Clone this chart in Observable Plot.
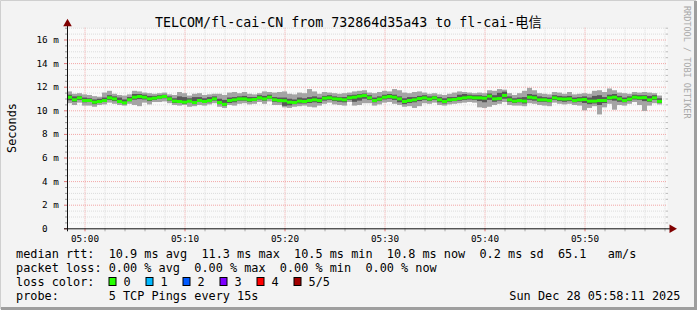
<!DOCTYPE html>
<html><head><meta charset="utf-8">
<script src="https://cdn.jsdelivr.net/npm/d3@7"></script>
<script src="https://cdn.jsdelivr.net/npm/@observablehq/plot@0.6"></script>
<style>
html,body{margin:0;padding:0;background:#f3f3f3;}
#chart{width:697px;height:310px;overflow:hidden;}
</style></head><body><div id="chart"></div>
<script>
// ---------- text ----------
const titleText = "TELCOM/fl-cai-CN from 732864d35a43 to fl-cai-电信";
const yAxisLabel = "Seconds";
const sideText = "RRDTOOL / TOBI OETIKER";
const rttHeader = "median rtt:";
const rttStats = ["10.9 ms avg", "11.3 ms max", "10.5 ms min", "10.8 ms now", "0.2 ms sd", "65.1   am/s"];
const lossHeader = "packet loss:";
const lossStats = ["0.00 % avg", "0.00 % max", "0.00 % min", "0.00 % now"];
const lossColorHeader = "loss color:";
const lossLabels = ["0", "1", "2", "3", "4", "5/5"];
const lossColors = ["#26ff00", "#00b8ff", "#0059ff", "#7e00ff", "#ff0000", "#a10000"];
const probeHeader = "probe:";
const probeText = "5 TCP Pings every 15s";
const dateText = "Sun Dec 28 05:58:11 2025";

// ---------- axes ----------
const timeStart = Date.UTC(2025, 11, 28, 4, 58, 15);
const timeEnd = Date.UTC(2025, 11, 28, 5, 58, 15);
const stepSeconds = 30;
const yMax = 17;
const yTicks = [0, 2, 4, 6, 8, 10, 12, 14, 16];
const yTickLabels = ["0", "2 m", "4 m", "6 m", "8 m", "10 m", "12 m", "14 m", "16 m"];
const yMinorStep = 0.5;
const xTickLabels = ["05:00", "05:10", "05:20", "05:30", "05:40", "05:50"];
const xMinorLabels = ["05:00","05:02","05:04","05:06","05:08","05:10","05:12","05:14","05:16","05:18",
  "05:20","05:22","05:24","05:26","05:28","05:30","05:32","05:34","05:36","05:38",
  "05:40","05:42","05:44","05:46","05:48","05:50","05:52","05:54","05:56","05:58"];

// ---------- series (ms), one value per 30 s step ----------
const medianMs = [
11.15,10.93,11.10,10.87,10.87,10.73,10.79,10.87,11.10,11.01,
10.79,10.68,10.93,11.15,11.21,11.15,11.01,11.07,11.15,11.21,
11.01,10.82,10.79,10.73,10.82,10.70,10.87,10.79,10.87,11.01,
10.70,10.55,10.87,10.93,11.01,11.01,10.93,10.96,11.10,11.01,
11.15,10.93,10.87,10.85,10.73,10.70,10.82,10.79,10.87,10.93,
10.87,11.07,11.10,11.01,10.99,10.93,11.10,11.15,11.24,11.29,
11.10,10.87,10.99,11.15,11.21,11.15,11.01,10.79,10.87,10.93,
11.04,11.10,10.99,11.10,10.93,10.79,10.93,10.96,11.04,11.10,
11.15,11.10,11.10,11.07,11.24,11.01,11.04,11.30,10.93,10.82,
10.87,10.82,11.15,11.10,10.93,10.93,10.87,11.10,11.01,10.99,
11.01,10.87,10.93,10.96,10.82,10.82,10.87,10.87,11.10,11.15,
11.01,10.87,10.99,11.15,11.10,11.12,10.93,11.10,10.80];
const pingMin = [
10.60,10.45,10.65,10.40,10.40,10.30,10.45,10.50,10.65,10.55,
10.45,10.40,10.55,10.45,10.35,10.65,10.50,10.70,10.70,10.75,
10.60,10.45,10.40,10.45,10.30,10.35,10.45,10.40,10.50,10.60,
10.30,10.20,10.45,10.40,10.55,10.60,10.50,10.55,10.70,10.55,
10.75,10.45,10.45,10.25,10.20,10.30,10.35,10.40,10.30,10.25,
10.40,10.55,10.65,10.50,10.45,10.40,10.70,10.40,10.45,10.60,
10.60,10.40,10.50,10.65,10.70,10.55,10.45,10.30,10.35,10.20,
10.35,10.60,10.55,10.65,10.45,10.40,10.50,10.55,10.60,10.65,
10.70,10.65,10.25,10.20,10.30,10.45,10.55,10.70,10.45,10.40,
10.40,10.35,10.60,10.55,10.45,10.40,10.35,10.65,10.55,10.50,
10.55,10.45,10.40,10.00,10.20,10.35,9.65,10.25,10.55,10.05,
10.45,10.40,10.55,10.70,10.45,9.95,10.40,10.60,10.50];
const pingLow = [
10.85,10.72,10.88,10.68,10.72,10.52,10.62,10.72,10.88,10.78,
10.62,10.52,10.78,10.90,10.95,10.92,10.78,10.88,10.98,11.02,
10.82,10.62,10.62,10.55,10.68,10.52,10.72,10.62,10.68,10.82,
10.52,10.38,10.62,10.68,10.82,10.82,10.72,10.78,10.92,10.82,
10.98,10.72,10.68,10.38,10.42,10.52,10.58,10.58,10.62,10.68,
10.62,10.82,10.88,10.78,10.72,10.68,10.88,10.72,10.82,10.98,
10.88,10.68,10.78,10.92,10.98,10.88,10.68,10.52,10.62,10.68,
10.78,10.88,10.78,10.88,10.68,10.58,10.72,10.78,10.82,10.88,
10.92,10.88,10.78,10.68,10.88,10.72,10.82,10.98,10.72,10.62,
10.68,10.58,10.88,10.82,10.72,10.72,10.68,10.88,10.78,10.72,
10.78,10.68,10.72,10.62,10.52,10.58,10.45,10.62,10.88,10.82,
10.72,10.68,10.78,10.92,10.88,10.78,10.72,10.88,10.62];
const pingHigh = [
11.32,11.18,11.22,11.08,11.02,10.92,10.98,11.08,11.28,11.18,
11.08,10.92,11.12,11.38,11.38,11.32,11.22,11.22,11.28,11.32,
11.18,11.02,11.18,11.12,11.02,11.12,11.12,11.02,11.12,11.18,
10.98,10.88,11.08,11.12,11.18,11.22,11.12,11.12,11.28,11.22,
11.32,11.12,11.08,11.08,10.98,10.92,11.08,11.02,11.12,11.18,
11.08,11.22,11.28,11.18,11.12,11.12,11.28,11.32,11.38,11.42,
11.28,11.08,11.18,11.32,11.38,11.32,11.18,11.02,11.12,11.12,
11.22,11.28,11.18,11.22,11.12,11.02,11.12,11.12,11.32,11.38,
11.32,11.28,11.28,11.22,11.42,11.28,11.48,11.58,11.18,11.02,
11.08,11.12,11.38,11.32,11.18,11.12,11.08,11.28,11.22,11.18,
11.22,11.08,11.12,11.18,11.08,11.22,11.28,11.12,11.32,11.38,
11.22,11.08,11.18,11.32,11.28,11.28,11.22,11.28,11.02];
const pingMax = [
11.60,11.40,11.45,11.35,11.30,11.20,11.15,11.50,11.65,11.40,
11.30,11.25,11.35,11.65,11.60,11.50,11.45,11.40,11.45,11.50,
11.35,11.30,11.55,11.45,11.25,11.40,11.45,11.30,11.35,11.40,
11.40,11.30,11.50,11.55,11.45,11.55,11.40,11.35,11.45,11.60,
11.55,11.50,11.55,11.60,11.40,11.35,11.50,11.45,11.80,11.60,
11.40,11.55,11.50,11.45,11.40,11.45,11.50,11.60,11.65,11.70,
11.50,11.45,11.55,11.65,11.60,11.80,11.70,11.50,11.45,11.55,
11.60,11.50,11.40,11.45,11.35,11.30,11.40,11.50,11.60,11.55,
11.50,11.45,11.50,11.45,11.70,11.65,11.80,11.75,11.45,11.30,
11.45,11.65,11.90,11.70,11.45,11.40,11.35,11.55,11.50,11.40,
11.55,11.35,11.40,11.45,11.40,11.65,11.70,11.55,11.85,11.70,
11.50,11.45,11.40,11.55,11.50,11.55,11.50,11.45,11.25];

// ---------- build table ----------
const rows = medianMs.map((m, i) => ({
  t1: new Date(timeStart + i * stepSeconds * 1000),
  t2: new Date(timeStart + (i + 1) * stepSeconds * 1000),
  med: m, p1: pingMin[i], p2: pingLow[i], p4: pingHigh[i], p5: pingMax[i]
}));
const parseHM = s => { const [h, m] = s.split(":").map(Number); return new Date(Date.UTC(2025, 11, 28, h, m)); };
const xMajor = xTickLabels.map(parseHM);
const xMinor = xMinorLabels.filter(s => !xTickLabels.includes(s)).map(parseHM);
const yMinor = d3.range(0, yMax + 0.001, yMinorStep).filter(v => !yTicks.includes(v));
const yLabelMap = new Map(yTicks.map((v, i) => [v, yTickLabels[i] === "0" ? "0\u00a0\u00a0" : yTickLabels[i]]));
const xLabelMap = new Map(xMajor.map((d, i) => [+d, xTickLabels[i]]));

const MONO = "'DejaVu Sans Mono', 'Noto Sans CJK SC', monospace";
const minorGrid = "#dcdcdc";
const majorGrid = "#f2a6a6";

const chart = Plot.plot({
  width: 697, height: 310,
  marginLeft: 67, marginRight: 30, marginTop: 27.7, marginBottom: 81.7,
  style: {background: "#f3f3f3", fontFamily: MONO, fontSize: "9.3px", color: "#000", overflow: "visible"},
  x: {type: "time", domain: [new Date(timeStart), new Date(timeEnd)], label: null},
  y: {domain: [0, yMax], label: null},
  marks: [
    Plot.frame({fill: "#fafafa", stroke: "none"}),
    Plot.ruleY(yMinor, {stroke: minorGrid, strokeDasharray: "1,1"}),
    Plot.ruleX(xMinor, {stroke: minorGrid, strokeDasharray: "1,1"}),
    Plot.ruleY(yTicks.filter(v => v > 0), {stroke: majorGrid, strokeDasharray: "1,1"}),
    Plot.ruleX(xMajor, {stroke: majorGrid, strokeDasharray: "1,1"}),
    Plot.rect(rows, {x1: "t1", x2: "t2", y1: "p1", y2: "p5", fill: "#a4a4a4"}),
    Plot.rect(rows, {x1: "t1", x2: "t2", y1: "p2", y2: "p4", fill: "#585858"}),
    Plot.ruleY(rows, {x1: "t1", x2: "t2", y: "med", stroke: lossColors[0], strokeWidth: 3}),
    // tick marks
    Plot.axisY(yMinor, {tickSize: 2, tickFormat: () => "", stroke: "#999"}),
    Plot.axisY(yTicks, {tickSize: 3, tickFormat: () => "", stroke: "#d77"}),
    Plot.axisY(yMinor, {anchor: "right", tickSize: -2, tickFormat: () => "", stroke: "#bbb"}),
    Plot.axisX(xMinor, {tickSize: 3, tickFormat: () => "", stroke: "#aaa"}),
    Plot.axisX(xMajor, {tickSize: 3, tickFormat: () => "", stroke: "#e07070"}),
    // labels
    Plot.axisY(yTicks, {tickSize: 0, tickPadding: 8.7, tickFormat: v => yLabelMap.get(v), fontSize: 9.3, label: null}),
    Plot.axisX(xMajor, {tickSize: 0, tickPadding: 6.5, tickFormat: d => xLabelMap.get(+d), fontSize: 9.3, label: null}),
    // axis lines & arrows
    Plot.ruleY([0], {stroke: "#101010", insetLeft: -3, insetRight: -3}),
    Plot.ruleX([new Date(timeStart)], {stroke: "#101010", insetTop: -3, insetBottom: -3}),
    Plot.dot([0], {x: () => new Date(timeEnd), y: 0, symbol: "triangle", rotate: 90, r: 3.2, dx: 4.5, fill: "#800000", stroke: "none"}),
    Plot.dot([0], {x: () => new Date(timeStart), y: yMax, symbol: "triangle", r: 3.2, dy: -4.5, fill: "#800000", stroke: "none"})
  ]
});
document.getElementById("chart").appendChild(chart);

// ---------- surrounding text (title, labels, legend) ----------
const svg = d3.select(chart);
const txt = (x, y, s, opts = {}) => svg.append("text")
  .attr("x", x).attr("y", y).attr("xml:space", "preserve").style("white-space", "pre")
  .attr("font-family", MONO).attr("font-size", opts.size || "11.85px")
  .attr("fill", opts.fill || "#000").attr("text-anchor", opts.anchor || "start").text(s);

txt(348.5, 26.5, titleText, {size: "13.3px", anchor: "middle"});
svg.append("text").attr("transform", "translate(15.5,128) rotate(-90)")
  .attr("font-family", MONO).attr("font-size", "11.85px").attr("text-anchor", "middle").text(yAxisLabel);
svg.append("text").attr("transform", "translate(684.3,6) rotate(90)")
  .attr("font-family", MONO).attr("font-size", "8.5px").attr("text-anchor", "start")
  .attr("fill", "#a8a8a8").text(sideText);

const lx = 16;
txt(lx, 258.3, rttHeader + "  " + rttStats.join("  "));
txt(lx, 272.3, lossHeader + " " + lossStats.join("  "));
txt(lx, 286, lossColorHeader);
lossLabels.forEach((lab, i) => {
  const bx = 108.5 + i * 37;
  svg.append("rect").attr("x", bx + 0.5).attr("y", 277.5).attr("width", 7).attr("height", 8)
    .attr("fill", lossColors[i]).attr("stroke", "#000").attr("stroke-width", 1);
  txt(bx + 15, 286, lab);
});
txt(lx, 300, probeHeader + "       " + probeText);
txt(680.5, 300, dateText, {anchor: "end"});

// outer 3D frame
svg.append("path").attr("d", "M0.5,309 V0.5 H696").attr("fill", "none").attr("stroke", "#cfcfcf").attr("stroke-width", 1);
svg.append("path").attr("d", "M1,308.5 H695.5 V1").attr("fill", "none").attr("stroke", "#9e9e9e").attr("stroke-width", 3);
</script></body></html>
